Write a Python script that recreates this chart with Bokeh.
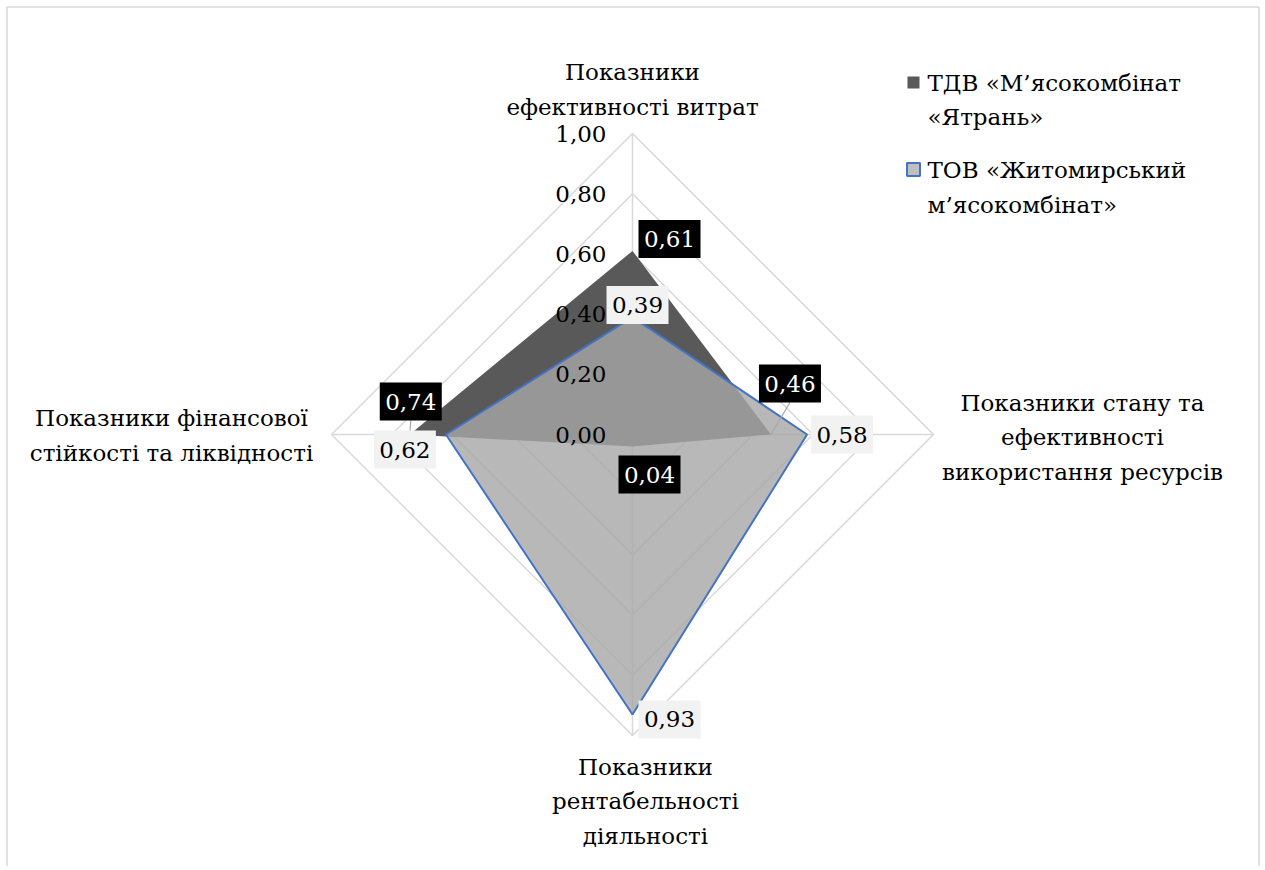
import math
from bokeh.plotting import figure
from bokeh.models import Range1d
from bokeh.core.properties import value
from bokeh.embed import file_html
from bokeh.resources import INLINE

# ---------------- data ----------------
categories = [
    "Показники\nефективності витрат",
    "Показники стану та\nефективності\nвикористання ресурсів",
    "Показники\nрентабельності\nдіяльності",
    "Показники фінансової\nстійкості та ліквідності",
]
series_names = [
    "ТДВ «М’ясокомбінат\n«Ятрань»",
    "ТОВ «Житомирський\nм’ясокомбінат»",
]
yatran = [0.61, 0.46, 0.04, 0.74]
zhytomyr = [0.39, 0.58, 0.93, 0.62]
ticks = [0.0, 0.2, 0.4, 0.6, 0.8, 1.0]
tick_labels = ["0,00", "0,20", "0,40", "0,60", "0,80", "1,00"]

# ---------------- layout ----------------
W, H = 1264, 866
PAGE = 0
CXP, CYP = 632, 434          # page coords of radar centre
R = 301.0                    # px per 1.0
cx, cy = CXP - PAGE, CYP - PAGE
FONT = value("DejaVu Serif")
FS = "23px"
LH = 1.34
GRID = "#d9d9d9"


def sx(xp):
    return (xp - PAGE - cx) / R


def sy(yp):
    return (cy - (yp - PAGE)) / R


angles = [math.pi / 2, 0.0, -math.pi / 2, math.pi]


def polar(vals):
    xs = [v * math.cos(a) for v, a in zip(vals, angles)]
    ys = [v * math.sin(a) for v, a in zip(vals, angles)]
    return xs, ys


p = figure(width=W, height=H, output_backend="svg", toolbar_location=None,
           x_range=Range1d(-cx / R, (W - cx) / R),
           y_range=Range1d(-(H - cy) / R, cy / R),
           min_border=0, outline_line_color=None)
p.axis.visible = False
p.grid.visible = False
p.background_fill_color = "white"

# chart border (left, top, right)
p.line([sx(6.5), sx(6.5), sx(1258.5), sx(1258.5)],
       [sy(900), sy(6.5), sy(6.5), sy(900)],
       line_color=GRID, line_width=1.5)

# grid diamonds
for t in ticks[1:]:
    gx, gy = polar([t] * 4)
    p.line(gx + gx[:1], gy + gy[:1], line_color=GRID, line_width=1.5)
# spokes
for a in angles:
    p.line([0, math.cos(a)], [0, math.sin(a)], line_color=GRID, line_width=1.5)

# series
ax, ay = polar(yatran)
p.patch(ax, ay, fill_color="#595959", line_color=None)
bx, by = polar(zhytomyr)
p.patch(bx, by, fill_color="#a6a6a6", fill_alpha=0.8, line_color=None)
p.line(bx + bx[:1], by + by[:1], line_color="#4472c4", line_width=2)

# tick labels
p.text([sx(606)] * len(ticks), ticks, text=tick_labels, text_font=FONT,
       text_font_size=FS, text_align="right", text_baseline="middle",
       text_color="black")

# data labels (offsets in px from the point)
off_a = [(37, -12), (19, -51), (17, 28), (1, -33)]
off_b = [(5, -12), (35, 0), (37, 5), (-41, 15)]
BW, BH = 62, 38


def labels(xs, ys, vals, offs, bg, fg, leaders):
    lx = [x + o[0] / R for x, o in zip(xs, offs)]
    ly = [y - o[1] / R for y, o in zip(ys, offs)]
    for i in leaders:
        p.line([lx[i], xs[i]], [ly[i] - (BH / 2) / R, ys[i]],
               line_color="#a6a6a6", line_width=1.2)
    p.rect(lx, ly, width=BW, height=BH, width_units="screen",
           height_units="screen", fill_color=bg, line_color=None)
    p.text(lx, ly, text=[f"{v:.2f}".replace(".", ",") for v in vals],
           text_font=FONT, text_font_size=FS, text_align="center",
           text_baseline="middle", text_color=fg)


labels(ax, ay, yatran, off_a, "black", "white", [1, 3])
labels(bx, by, zhytomyr, off_b, "#f2f2f2", "black", [])

# category labels (page coords of label centres)
cat_pos = [(632, 89), (1082, 437), (645, 801), (171, 435)]
p.text([sx(c[0]) for c in cat_pos], [sy(c[1]) for c in cat_pos],
       text=categories, text_font=FONT, text_font_size=FS,
       text_align="center", text_baseline="middle", text_color="black",
       text_line_height=LH)

# legend
p.scatter([sx(913)], [sy(82)], marker="square", size=12,
          fill_color="#595959", line_color=None)
p.scatter([sx(913)], [sy(169)], marker="square", size=13,
          fill_color="#bfbfbf", line_color="#4472c4", line_width=2)
p.text([sx(927), sx(927)], [sy(99.5), sy(187)], text=series_names,
       text_font=FONT, text_font_size=FS, text_align="left",
       text_baseline="middle", text_color="black", text_line_height=LH)

open("out.html", "w").write(file_html(p, INLINE))
